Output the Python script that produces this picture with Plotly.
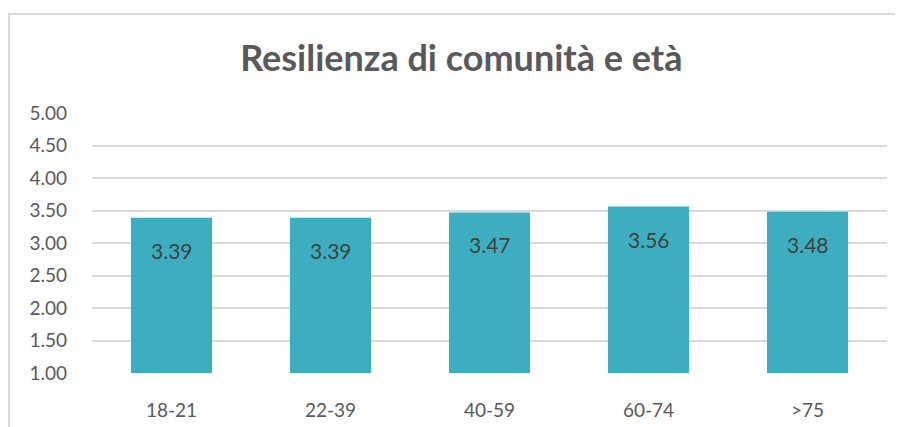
import plotly.graph_objects as go

categories = ["18-21", "22-39", "40-59", "60-74", ">75"]
values = [3.39, 3.39, 3.47, 3.56, 3.48]
labels = ["3.39", "3.39", "3.47", "3.56", "3.48"]
tick_vals = [1.0, 1.5, 2.0, 2.5, 3.0, 3.5, 4.0, 4.5, 5.0]
tick_text = ["1.00", "1.50", "2.00", "2.50", "3.00", "3.50", "4.00", "4.50", "5.00"]
title = "Resilienza di comunità e età"

FONT = "Lato, 'Open Sans', sans-serif"

# plot area in figure pixels (page has an 8px body offset)
L, R, T, B = 84, 879, 105, 365
W, H = R - L, B - T

fig = go.Figure()
fig.add_trace(go.Bar(
    x=categories, y=values,
    marker=dict(color="#3DAEBF", line=dict(width=0)),
    hoverinfo="skip",
))

for c, v, t in zip(categories, values, labels):
    fig.add_annotation(x=c, y=v, text=t, showarrow=False, yanchor="top",
                       yshift=-18, font=dict(family=FONT, size=21, color="#404040"))

fig.update_layout(
    width=903, height=427,
    margin=dict(l=L, r=903 - R, t=T, b=427 - B),
    paper_bgcolor="white", plot_bgcolor="white",
    showlegend=False,
    bargap=0.49,
    title=dict(text=f"<b>{title}</b>", x=0.502, xanchor="center", y=1 - 50 / 427, yanchor="middle",
               font=dict(family=FONT, size=36, color="#595959")),
    xaxis=dict(showgrid=False, showline=False, ticks="", ticklabelstandoff=24,
               tickfont=dict(family=FONT, size=19, color="#595959")),
    yaxis=dict(range=[1, 5], tickvals=tick_vals, ticktext=tick_text,
               showgrid=True, gridcolor="#D9D9D9", gridwidth=2, zeroline=False,
               showline=False, ticks="", ticklabelstandoff=24,
               tickfont=dict(family=FONT, size=19, color="#595959")),
    shapes=[dict(type="rect", xref="paper", yref="paper",
                 x0=(1 - L) / W, x1=(960 - L) / W, y0=(B - 480) / H, y1=(B - 6) / H,
                 line=dict(color="#D9D9D9", width=2), fillcolor="rgba(0,0,0,0)", layer="below")],
)

fig.write_html("out.html")
